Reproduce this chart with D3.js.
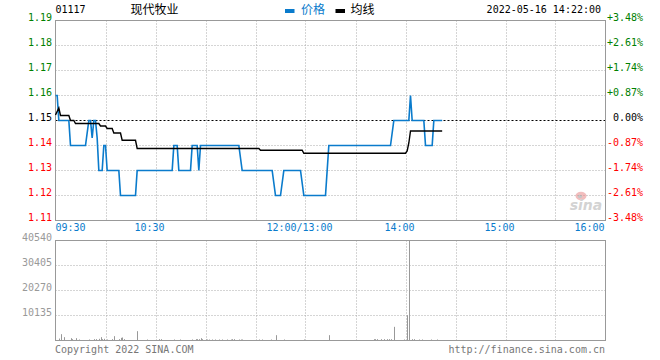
<!DOCTYPE html>
<html><head><meta charset="utf-8">
<script src="https://cdn.jsdelivr.net/npm/d3@7"></script>
<style>body{margin:0;background:#fff}svg{display:block}</style>
</head><body><svg id="c" width="660" height="360"></svg>
<script>
// ---- data ----
const stockCode = "01117";
const stockName = "现代牧业";
const stamp = "2022-05-16 14:22:00";
const legendNames = ["价格", "均线"];
const prevClose = 1.15;
const priceTicks = [1.11, 1.12, 1.13, 1.14, 1.15, 1.16, 1.17, 1.18, 1.19];
const timeTicks = ["09:30", "10:30", "12:00/13:00", "14:00", "15:00", "16:00"];
const volTicks = [10135, 20270, 30405, 40540];
const copyrightText = "Copyright 2022 SINA.COM";
const urlText = "http://finance.sina.com.cn";

const priceTimes = ["09:30","09:31","09:32","09:38","09:39","09:48","09:50","09:51","09:52","09:53","09:54","09:55","09:56","09:58","09:59","10:00","10:01","10:08","10:09","10:18","10:19","10:40","10:41","10:43","10:44","10:51","10:52","10:55","10:56","10:57","11:20","11:22","11:40","11:42","11:45","11:47","11:57","11:59","13:12","13:14","13:51","13:53","14:02","14:03","14:04","14:11","14:12","14:16","14:17","14:22"];
const priceValues = [1.16,1.16,1.15,1.15,1.14,1.14,1.15,1.15,1.143,1.15,1.15,1.143,1.13,1.13,1.14,1.14,1.13,1.13,1.12,1.12,1.13,1.13,1.14,1.14,1.13,1.13,1.14,1.14,1.13,1.14,1.14,1.13,1.13,1.12,1.12,1.13,1.13,1.12,1.12,1.14,1.14,1.15,1.15,1.16,1.15,1.15,1.14,1.14,1.15,1.15];

const avgTimes = ["09:30","09:32","09:33","09:38","09:39","09:41","09:42","09:56","09:57","10:00","10:01","10:04","10:05","10:09","10:10","10:18","10:19","11:32","11:33","11:58","11:59","14:00","14:01","14:02","14:03","14:22"];
const avgValues = [1.1522,1.1550,1.1520,1.1520,1.1500,1.1500,1.1488,1.1488,1.1478,1.1478,1.1468,1.1468,1.1450,1.1450,1.1421,1.1421,1.1388,1.1388,1.1381,1.1381,1.1369,1.1369,1.1378,1.1410,1.1458,1.1458];

const volTimes = ["09:32","09:33","09:35","09:39","09:40","09:42","09:44","09:50","09:53","09:54","09:56","09:57","09:58","09:59","10:01","10:04","10:05","10:08","10:09","10:10","10:11","10:19","10:25","10:32","10:33","10:41","10:45","10:52","10:54","10:55","10:56","10:57","10:58","11:00","11:01","11:02","11:04","11:06","11:08","11:10","11:13","11:15","11:16","11:17","11:20","11:21","11:22","11:32","11:34","11:39","11:42","11:47","11:59","13:14","13:41","13:42","13:43","13:45","13:47","13:49","13:50","13:51","13:53","13:59","14:01","14:02","14:04","14:05","14:08","14:10","14:15","14:19"];
const volValues = [800,2560,1350,950,540,950,400,400,540,540,680,1350,540,680,400,540,1760,540,1080,1220,540,3780,400,540,540,400,400,400,540,540,540,950,540,400,400,400,400,400,400,400,400,400,540,540,400,400,400,400,400,400,2160,400,400,2160,540,540,540,540,540,540,540,540,5540,400,10260,40540,540,540,400,400,400,400];

// ---- layout ----
const L = 55.5, R = 605.5, PT = 20.5, PB = 220.5, VT = 240.5, VB = 340.5;
const mono = "'DejaVu Sans Mono', monospace";
const cjk = "'Noto Sans CJK SC', sans-serif";
const blue = "#0a7bcc", green = "#008000", red = "#ff0000", gridC = "#aaaaaa", borderC = "#999999";

function tm(s) {
  const [h, m] = s.split("/")[0].split(":").map(Number);
  const v = h * 60 + m;
  return v <= 720 ? v - 570 : v - 780 + 150;
}

const x = d3.scaleLinear().domain([0, 330]).range([L, R]);
const y = d3.scaleLinear().domain([1.11, 1.19]).range([PB, PT]);
const yv = d3.scaleLinear().domain([0, 40540]).range([VB, VT]);

const svg = d3.select("#c");

// vertical grid (every 30 min)
const vgrid = d3.range(30, 330, 30);
[[PT, PB], [VT, VB]].forEach(([t, b]) => {
  svg.append("g").selectAll("line").data(vgrid).join("line")
    .attr("x1", d => Math.round(x(d)) + 0.5).attr("x2", d => Math.round(x(d)) + 0.5)
    .attr("y1", t).attr("y2", b)
    .attr("stroke", gridC).attr("stroke-dasharray", "1,2");
});

// horizontal price grid
svg.append("g").selectAll("line").data(priceTicks.filter(p => p > 1.1101 && p < 1.1899 && Math.abs(p - prevClose) > 1e-6)).join("line")
  .attr("x1", L).attr("x2", R).attr("y1", d => y(d)).attr("y2", d => y(d))
  .attr("stroke", gridC).attr("stroke-dasharray", "1,2");
// prev close dashed
svg.append("line").attr("x1", L).attr("x2", R).attr("y1", y(prevClose)).attr("y2", y(prevClose))
  .attr("stroke", "#000").attr("stroke-dasharray", "2,2");

// volume grid
svg.append("g").selectAll("line").data(volTicks.slice(0, 3)).join("line")
  .attr("x1", L).attr("x2", R).attr("y1", d => Math.round(yv(d) - 0.5) + 0.5).attr("y2", d => Math.round(yv(d) - 0.5) + 0.5)
  .attr("stroke", gridC).attr("stroke-dasharray", "1,2");

// borders
svg.append("rect").attr("x", L).attr("y", PT).attr("width", R - L).attr("height", PB - PT)
  .attr("fill", "none").attr("stroke", borderC);
svg.append("rect").attr("x", L).attr("y", VT).attr("width", R - L).attr("height", VB - VT)
  .attr("fill", "none").attr("stroke", borderC);

// sina watermark
const wm = svg.append("g").attr("opacity", 0.55);
wm.append("ellipse").attr("cx", 581).attr("cy", 196).attr("rx", 5.5).attr("ry", 4.2).attr("fill", "#e88a8a");
wm.append("ellipse").attr("cx", 580).attr("cy", 196.5).attr("rx", 2.2).attr("ry", 1.8).attr("fill", "#999");
wm.append("text").attr("x", 586).attr("y", 210).attr("text-anchor", "middle")
  .attr("font-family", "'DejaVu Sans', sans-serif").attr("font-style", "italic").attr("font-weight", "bold")
  .attr("font-size", 14).attr("fill", "#b0b0b0").text("sina");

// left price labels
svg.append("g").selectAll("text").data(priceTicks).join("text")
  .attr("x", 52).attr("y", d => y(d) - 3).attr("dy", "0.35em").attr("text-anchor", "end")
  .attr("font-family", mono).attr("font-size", 10)
  .attr("fill", d => d > prevClose + 1e-6 ? green : (d < prevClose - 1e-6 ? red : "#000"))
  .text(d => d.toFixed(2));

// right pct labels
svg.append("g").selectAll("text").data(priceTicks).join("text")
  .attr("x", 643).attr("y", d => y(d) - 3).attr("dy", "0.35em").attr("text-anchor", "end")
  .attr("font-family", mono).attr("font-size", 10)
  .attr("fill", d => d > prevClose + 1e-6 ? green : (d < prevClose - 1e-6 ? red : "#000"))
  .text(d => {
    const p = (d - prevClose) / prevClose * 100;
    const s = Math.abs(p).toFixed(2) + "%";
    return Math.abs(p) < 1e-6 ? s : (p > 0 ? "+" + s : "-" + s);
  });

// time labels
svg.append("g").selectAll("text").data(timeTicks).join("text")
  .attr("x", (d, i) => i === 0 ? L : (i === timeTicks.length - 1 ? R - 1 : x(tm(d)) - 6))
  .attr("y", 227).attr("dy", "0.35em")
  .attr("text-anchor", (d, i) => i === 0 ? "start" : (i === timeTicks.length - 1 ? "end" : "middle"))
  .attr("font-family", mono).attr("font-size", 10).attr("fill", blue)
  .text(d => d);

// volume labels
svg.append("g").selectAll("text").data(volTicks).join("text")
  .attr("x", 52).attr("y", d => yv(d) - 3).attr("dy", "0.35em").attr("text-anchor", "end")
  .attr("font-family", mono).attr("font-size", 10).attr("fill", "#999")
  .text(d => d);

// volume bars
svg.append("g").selectAll("line").data(volTimes.map((t, i) => ({ t, v: volValues[i] }))).join("line")
  .attr("x1", d => Math.round(x(tm(d.t))) + 0.5).attr("x2", d => Math.round(x(tm(d.t))) + 0.5)
  .attr("y1", yv(0)).attr("y2", d => yv(d.v))
  .attr("stroke", "#999").attr("stroke-width", 1);

// lines
const line = d3.line().x(d => x(tm(d[0]))).y(d => y(d[1]));
svg.append("path").datum(priceTimes.map((t, i) => [t, priceValues[i]]))
  .attr("d", line).attr("fill", "none").attr("stroke", blue).attr("stroke-width", 1.6);
svg.append("path").datum(avgTimes.map((t, i) => [t, avgValues[i]]))
  .attr("d", line).attr("fill", "none").attr("stroke", "#000").attr("stroke-width", 1.4);

// header
svg.append("text").attr("x", 55.5).attr("y", 9.5).attr("dy", "0.35em")
  .attr("font-family", mono).attr("font-size", 10).attr("fill", "#000").text(stockCode);
svg.append("text").attr("x", 130.5).attr("y", 9.5).attr("dy", "0.35em")
  .attr("font-family", cjk).attr("font-size", 12).attr("fill", "#000").text(stockName);
svg.append("rect").attr("x", 285).attr("y", 9).attr("width", 9.5).attr("height", 4).attr("fill", blue);
svg.append("text").attr("x", 301).attr("y", 9.5).attr("dy", "0.35em")
  .attr("font-family", cjk).attr("font-size", 12).attr("fill", blue).text(legendNames[0]);
svg.append("rect").attr("x", 335.5).attr("y", 9).attr("width", 9.5).attr("height", 4).attr("fill", "#000");
svg.append("text").attr("x", 350.5).attr("y", 9.5).attr("dy", "0.35em")
  .attr("font-family", cjk).attr("font-size", 12).attr("fill", "#000").text(legendNames[1]);
svg.append("text").attr("x", 601).attr("y", 9.5).attr("dy", "0.35em").attr("text-anchor", "end")
  .attr("font-family", mono).attr("font-size", 10).attr("fill", "#000").text(stamp);

// footer
svg.append("text").attr("x", 55).attr("y", 349.5).attr("dy", "0.35em")
  .attr("font-family", mono).attr("font-size", 10).attr("fill", "#777").text(copyrightText);
svg.append("text").attr("x", 605).attr("y", 349.5).attr("dy", "0.35em").attr("text-anchor", "end")
  .attr("font-family", mono).attr("font-size", 10).attr("fill", "#777").text(urlText);
</script>
</body></html>
